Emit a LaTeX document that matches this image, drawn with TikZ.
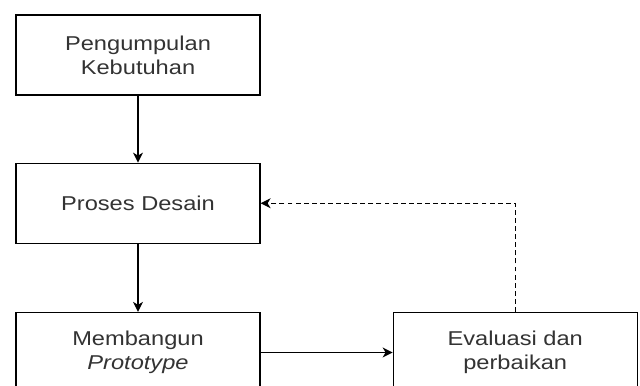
\documentclass[tikz,border=0pt]{standalone}
\usepackage{fontspec}
\setmainfont[FakeStretch=1.18]{Liberation Sans}
\usepackage{tikz}
\usetikzlibrary{positioning,arrows.meta}

\begin{document}
\begin{tikzpicture}[
    box/.style={rectangle, draw, line width=0.7pt, minimum width=4.88cm, minimum height=1.6cm, inner sep=0pt, align=center, text=black!80, font=\fontsize{11.4}{13.7}\selectfont},
    flow/.style={line width=0.7pt, -{Stealth[length=0.2cm, width=0.2cm, inset=0.06cm]}},
]
\clip (0,0) rectangle (12.8,7.7);
\fill[white] (0,0) rectangle (12.8,7.7);

% Column 1 - process boxes
\node[box] (kebutuhan) at (2.76,6.6) {Pengumpulan\\Kebutuhan};

\node[box, below=1.34cm of kebutuhan] (desain) {Proses Desain};

\node[box, below=1.36cm of desain] (prototype) {Membangun\\\textit{Prototype}};

% Column 2 - evaluation
\node[box, right=2.64cm of prototype] (evaluasi) {Evaluasi dan\\perbaikan};

% Arrows
\draw[flow] (kebutuhan) -- (desain);
\draw[flow] (desain) -- (prototype);
\draw[flow] (prototype) -- (evaluasi);
\draw[flow, dash pattern=on 2.8pt off 1.8pt] (evaluasi.north) |- (desain.east);

\end{tikzpicture}
\end{document}
